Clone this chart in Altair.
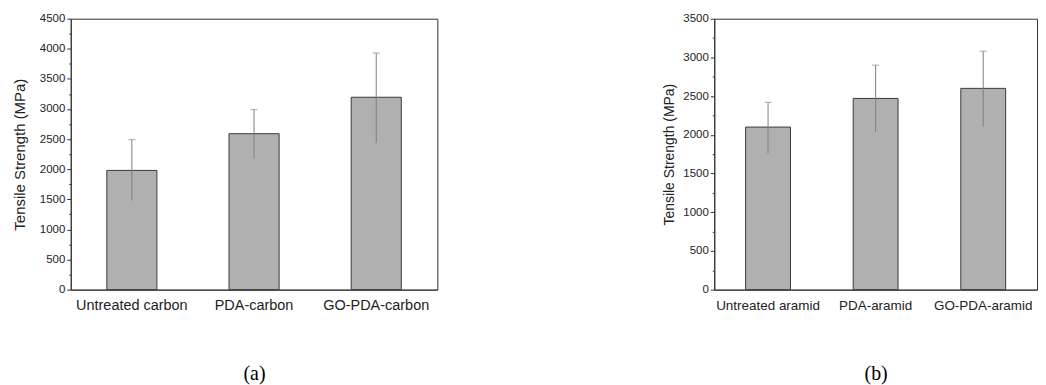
import altair as alt
import pandas as pd

# Panel (a) data
cats_a = ["Untreated carbon", "PDA-carbon", "GO-PDA-carbon"]
vals_a = [1980, 2590, 3195]
lo_a = [1480, 2180, 2440]
hi_a = [2490, 2990, 3930]

# Panel (b) data
cats_b = ["Untreated aramid", "PDA-aramid", "GO-PDA-aramid"]
vals_b = [2100, 2470, 2600]
lo_b = [1760, 2035, 2110]
hi_b = [2420, 2900, 3080]

ticks_a = list(range(0, 4501, 250))
ticks_b = list(range(0, 3501, 250))

YTITLE = "Tensile Strength (MPa)"


def panel(cats, vals, lo, hi, ymax, ticks, caption, width, xfont, yfont,
          title_font, title_pad, pad_in):
    df = pd.DataFrame({"cat": cats, "val": vals, "lo": lo, "hi": hi})
    xscale = alt.Scale(paddingInner=pad_in, paddingOuter=pad_in / 2)
    xaxis = alt.Axis(
        title=caption, labelAngle=0, ticks=False, labelFontSize=xfont,
        labelPadding=9, titleFont="Liberation Serif", titleFontSize=20,
        titleFontWeight="normal", titleColor="#000", titlePadding=52,
    )
    yscale = alt.Scale(domain=[0, ymax], nice=False, zero=True)
    yaxis = alt.Axis(
        title=YTITLE, values=ticks, format="d",
        labelExpr="datum.value % 500 == 0 ? datum.label : ''",
        tickSize={"condition": {"test": "datum.value % 500 !== 0", "value": 2},
                  "value": 4},
        labelFontSize=yfont, titleFontSize=title_font, titlePadding=title_pad,
        titleFontWeight="normal", grid=False, labelOverlap=False,
    )
    x = alt.X("cat:N", sort=cats, scale=xscale, axis=xaxis)
    bars = alt.Chart(df).mark_bar(fill="#b0b0b0", stroke="#3a3a3a",
                                  strokeWidth=1).encode(
        x=x, y=alt.Y("val:Q", scale=yscale, axis=yaxis))
    rule = alt.Chart(df).mark_rule(color="#808080", strokeWidth=1).encode(
        x=x, y=alt.Y("lo:Q", scale=yscale, axis=yaxis), y2="hi:Q")
    cap = alt.Chart(df).mark_tick(color="#808080", size=7, thickness=1).encode(
        x=x, y=alt.Y("hi:Q", scale=yscale, axis=yaxis))
    return alt.layer(bars, rule, cap).properties(width=width, height=272)


pa = panel(cats_a, vals_a, lo_a, hi_a, 4500, ticks_a, "(a)", 368, 14.5, 11.5,
           15, 12, 0.59)
pb = panel(cats_b, vals_b, lo_b, hi_b, 3500, ticks_b, "(b)", 324, 13.5, 11.5,
           14, 6, 0.583)

chart = alt.hconcat(pa, pb, spacing=224).properties(
    padding={"left": 3, "top": 3, "right": 0, "bottom": 0},
    background="white",
).configure_view(
    stroke="#333", strokeWidth=1
).configure_axis(
    labelFont="Liberation Sans", titleFont="Liberation Sans",
    labelColor="#222", titleColor="#222", domainColor="#333",
    tickColor="#333", domainWidth=1, tickWidth=1,
)

chart.save("out.html", embed_options={"renderer": "svg", "actions": False})
